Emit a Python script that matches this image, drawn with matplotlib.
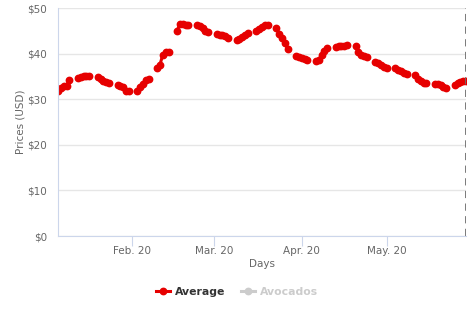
import numpy as np
import pandas as pd
import matplotlib
matplotlib.use("Agg")
import matplotlib.pyplot as plt
import matplotlib.dates as mdates
from matplotlib.lines import Line2D

# weekly blocks of trading-day averages (Mon..Fri)
week_values = [
    [31.8, 32.5, 32.8, 33.0, 34.2],
    [34.6, 34.8, 35.0, 35.1, 35.0],
    [34.8, 34.4, 34.0, 33.8, 33.5],
    [33.1, 33.0, 32.6, 31.9, 31.8],
    [31.9, 32.7, 33.3, 34.3, 34.4],
    [36.8, 37.6, 39.8, 40.3, 40.3],
    [45.0, 46.4, 46.5, 46.3, 46.2],
    [46.2, 46.0, 45.6, 45.0, 44.8],
    [44.2, 44.1, 44.0, 43.9, 43.4],
    [42.9, 43.2, 43.6, 44.0, 44.5],
    [45.0, 45.5, 45.9, 46.2, 46.3],
    [45.6, 44.4, 43.4, 42.4, 41.0],
    [39.4, 39.2, 39.0, 38.8, 38.5],
    [38.4, 38.5, 39.8, 40.6, 41.2],
    [41.5, 41.7, 41.7, 41.7, 41.8],
    [41.7, 40.4, 39.6, 39.4, 39.3],
    [38.1, 37.9, 37.5, 37.0, 36.8],
    [36.9, 36.5, 36.2, 35.8, 35.5],
    [35.2, 34.5, 33.9, 33.6, 33.5],
    [33.3, 33.3, 33.2, 32.6, 32.4],
    [33.1, 33.6, 33.8, 33.9, 33.9],
]
start_date = "2020-01-06"
end_date = "2020-05-29"
y_ticks = [0, 10, 20, 30, 40, 50]

days = pd.bdate_range(start_date, end_date)
avg = pd.Series(np.concatenate(week_values), index=days)
# put weekends back in as gaps
avg = avg.reindex(pd.date_range(start_date, end_date))

red = "#e60000"
fig = plt.figure(figsize=(4.74, 3.16), dpi=100)
ax = fig.add_axes([58/474, 1 - 236/316, 408/474, 228/316])

ax.plot(avg.index, avg.values, color=red, lw=2.2, marker="o", ms=4.6,
        mec=red, mfc=red)
ax.axvline(avg.index[-1], color="#707070", lw=1.3, ls=(0, (4, 3)))

ax.set_xlim(avg.index[0], avg.index[-1])
ax.set_ylim(0, 50)
ax.set_yticks(y_ticks)
ax.set_yticklabels(["$%d" % v for v in y_ticks])
ax.xaxis.set_major_locator(mdates.MonthLocator(bymonth=[2, 3, 4, 5]))
ax.xaxis.set_major_formatter(mdates.DateFormatter("%b. %y"))

ax.grid(axis="y", color="#e6e6e6", lw=1)
ax.set_axisbelow(True)
for s in ["top", "right"]:
    ax.spines[s].set_visible(False)
ax.spines["left"].set_color("#ccd6eb")
ax.spines["bottom"].set_color("#ccd6eb")
ax.tick_params(axis="y", length=0, labelsize=7.5, labelcolor="#666666", pad=8)
ax.tick_params(axis="x", length=7, color="#ccd6eb", labelsize=7.5,
               labelcolor="#666666", pad=0.5)

ax.set_ylabel("Prices (USD)", fontsize=7.5, color="#666666", labelpad=1)
ax.set_xlabel("Days", fontsize=7.5, color="#666666", labelpad=2)

handles = [
    Line2D([], [], color=red, lw=2.2, marker="o", ms=4.6),
    Line2D([], [], color="#cccccc", lw=2.2, marker="o", ms=4.6),
]
leg = fig.legend(handles, ["Average", "Avocados"], loc="center",
                 bbox_to_anchor=(237/474, 1 - 292/316), ncol=2, frameon=False,
                 fontsize=7.8, handlelength=1.3, handletextpad=0.4,
                 columnspacing=1.5)
texts = leg.get_texts()
texts[0].set_color("#333333")
texts[0].set_fontweight("bold")
texts[1].set_color("#cccccc")
texts[1].set_fontweight("bold")

fig.savefig("out.png", dpi=100)
